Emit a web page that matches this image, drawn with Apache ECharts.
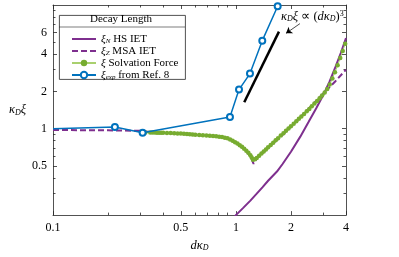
<!DOCTYPE html>
<html>
<head>
<meta charset="utf-8">
<script src="https://cdn.jsdelivr.net/npm/echarts@6.0.0/dist/echarts.min.js"></script>
<style>
  html, body { margin: 0; padding: 0; background: #fff; }
  #chart { width: 399px; height: 257px; }
</style>
</head>
<body>
<div id="chart"></div>
<script>
// values (d*kappa_D  vs  kappa_D*xi, log-log)
const hsX = [0.97, 1.0, 1.1, 1.2, 1.3, 1.4, 1.5, 1.677, 1.8, 2.0, 2.25, 2.5, 2.75, 3.0, 3.25, 3.5, 3.75, 4.0];
const hsY = [0.188, 0.2, 0.23, 0.262, 0.298, 0.337, 0.379, 0.45, 0.518, 0.65, 0.862, 1.136, 1.465, 1.86, 2.40, 3.14, 4.11, 5.4];

const msaX = [0.1, 0.2, 0.3, 0.33, 0.36, 0.4, 0.5, 0.6, 0.7, 0.8, 0.9, 1.0, 1.1, 1.2, 1.25, 1.3, 1.5, 1.75, 2.0, 2.5, 3.0, 3.5, 4.0];
const msaY = [0.975, 0.97, 0.96, 0.945, 0.93, 0.922, 0.908, 0.89, 0.875, 0.86, 0.83, 0.77, 0.69, 0.60, 0.52, 0.575, 0.70, 0.855, 1.04, 1.45, 1.92, 2.42, 3.0];

const solvX = [0.32, 0.34, 0.35, 0.36, 0.37, 0.38, 0.39, 0.40, 0.42, 0.44, 0.46, 0.48, 0.50, 0.52, 0.54, 0.56, 0.58, 0.60,
  0.63, 0.66, 0.69, 0.72, 0.75, 0.78, 0.81, 0.84, 0.87, 0.90, 0.93, 0.96, 0.99, 1.02, 1.05, 1.08, 1.11, 1.14, 1.17, 1.20,
  1.22, 1.24, 1.27, 1.30, 1.34, 1.38, 1.42, 1.46, 1.50, 1.55, 1.60, 1.65, 1.70, 1.76, 1.82, 1.88, 1.94, 2.00,
  2.07, 2.14, 2.21, 2.28, 2.36, 2.44, 2.52, 2.60, 2.69, 2.78, 2.87, 2.96, 3.06, 3.16, 3.26, 3.37, 3.48, 3.60, 3.72, 3.84, 3.96];
const solvY = [0.930, 0.930, 0.929, 0.929, 0.928, 0.927, 0.926, 0.925, 0.923, 0.921, 0.918, 0.915, 0.912, 0.909, 0.905, 0.901, 0.897, 0.893,
  0.888, 0.884, 0.880, 0.876, 0.872, 0.868, 0.862, 0.855, 0.846, 0.835, 0.818, 0.798, 0.778, 0.757, 0.736, 0.713, 0.688, 0.663, 0.638, 0.610,
  0.585, 0.560, 0.565, 0.58, 0.605, 0.63, 0.655, 0.68, 0.706, 0.739, 0.771, 0.805, 0.838, 0.879, 0.92, 0.962, 1.004, 1.047,
  1.098, 1.149, 1.20, 1.253, 1.314, 1.38, 1.445, 1.515, 1.595, 1.675, 1.76, 1.85, 1.96, 2.09, 2.28, 2.55, 2.86, 3.25, 3.72, 4.25, 4.85];

const expX = [0.1, 0.218, 0.309, 0.928, 1.04, 1.194, 1.394, 1.692];
const expY = [1.0, 1.03, 0.926, 1.245, 2.07, 2.79, 5.15, 9.77];

// cubic guide line and its arrow
const guideX = [1.111, 1.72];
const guideY = [1.636, 6.09];
const arrowX = [2.24, 1.879];
const arrowY = [7.07, 5.9];

const xTicks = [0.1, 0.5, 1, 2, 4];
const xTickLabels = ['0.1', '0.5', '1', '2', '4'];
const xMinor = [0.2, 0.3, 0.4, 0.6, 0.7, 0.8, 0.9, 3];
const yTicks = [0.5, 1, 2, 4, 6];
const yTickLabels = ['0.5', '1', '2', '4', '6'];
const yMinor = [0.3, 0.4, 0.6, 0.7, 0.8, 0.9, 3, 5, 7, 8, 9];

const names = ['ξN HS IET', 'ξZ MSA IET', 'ξ Solvation Force', 'ξexp from Ref. 8'];
const legendText = {
  'ξN HS IET': '{i|ξ}{s|N}{t| HS IET}',
  'ξZ MSA IET': '{i|ξ}{s|Z}{t| MSA IET}',
  'ξ Solvation Force': '{i|ξ}{t| Solvation Force}',
  'ξexp from Ref. 8': '{i|ξ}{s|exp}{t| from Ref. 8}'
};

const L = Math.log10;
const pts = (xs, ys) => xs.map((x, i) => [L(x), L(ys[i])]);
const serif = 'Liberation Serif';
const frame = '#262626';
const purple = '#7E2F8E';
const blue = '#0072BD';
const green = '#77AC30';

const rich = {
  i: { fontFamily: serif, fontStyle: 'italic', fontSize: 11, lineHeight: 12, color: '#000' },
  t: { fontFamily: serif, fontSize: 11, lineHeight: 12, color: '#000' },
  s: { fontFamily: serif, fontStyle: 'italic', fontSize: 7, lineHeight: 6, verticalAlign: 'bottom', color: '#000' },
  p: { fontFamily: serif, fontSize: 7, lineHeight: 6, verticalAlign: 'top', color: '#000' }
};
// slightly larger set for axis titles and the annotation
const richBig = {
  i: { fontFamily: serif, fontStyle: 'italic', fontSize: 12.5, lineHeight: 13, color: '#000' },
  t: { fontFamily: serif, fontSize: 12.5, lineHeight: 13, color: '#000' },
  s: { fontFamily: serif, fontStyle: 'italic', fontSize: 8, lineHeight: 7, verticalAlign: 'bottom', color: '#000' },
  p: { fontFamily: serif, fontSize: 8, lineHeight: 7, verticalAlign: 'top', color: '#000' }
};

function tickLabel(v, ticks, labels) {
  let best = 0;
  ticks.forEach((t, i) => { if (Math.abs(L(t) - v) < Math.abs(L(ticks[best]) - v)) best = i; });
  return labels[best];
}

function axis(pos, min, max, ticks, len, lineOn) {
  return {
    type: 'value', position: pos, min: min, max: max,
    splitLine: { show: false },
    axisLine: { show: lineOn, onZero: false, lineStyle: { color: frame, width: 0.8 } },
    axisTick: { show: true, inside: true, length: len, customValues: ticks.map(L), lineStyle: { color: frame, width: 0.8 } },
    axisLabel: { show: false }
  };
}

const xMin = L(0.1), xMax = L(4), yMin = L(0.2), yMax = L(10);

const xMain = axis('bottom', xMin, xMax, xTicks, 4, true);
xMain.axisLabel = {
  show: true, customValues: xTicks.map(L), margin: 7, color: '#000', fontFamily: serif, fontSize: 12,
  formatter: v => tickLabel(v, xTicks, xTickLabels)
};
xMain.name = '{i|dκ}{s|D}';
xMain.nameLocation = 'middle';
xMain.nameGap = 18;
xMain.nameTextStyle = { rich: richBig };

const yMain = axis('left', yMin, yMax, yTicks, 4, true);
yMain.axisLabel = {
  show: true, customValues: yTicks.map(L), margin: 6, color: '#000', fontFamily: serif, fontSize: 12,
  formatter: v => tickLabel(v, yTicks, yTickLabels)
};
yMain.name = '{i|κ}{s|D}{i|ξ}';
yMain.nameLocation = 'middle';
yMain.nameRotate = 0;
yMain.nameGap = 17;
yMain.nameTextStyle = { rich: richBig };

const chart = echarts.init(document.getElementById('chart'));
chart.setOption({
  animation: false,
  backgroundColor: '#fff',
  grid: { left: 53, right: 53, top: 5, bottom: 31, containLabel: false },
  xAxis: [
    xMain,
    axis('bottom', xMin, xMax, xMinor, 2.5, false),
    axis('top', xMin, xMax, xTicks, 4, true),
    axis('top', xMin, xMax, xMinor, 2.5, false)
  ],
  yAxis: [
    yMain,
    axis('left', yMin, yMax, yMinor, 2.5, false),
    axis('right', yMin, yMax, yTicks, 4, true),
    axis('right', yMin, yMax, yMinor, 2.5, false)
  ],
  legend: {
    data: [
      { name: names[0], itemStyle: { opacity: 0 } },
      { name: names[1], itemStyle: { opacity: 0 } },
      { name: names[2] },
      { name: names[3] }
    ],
    orient: 'vertical',
    left: 66, top: 28,
    itemWidth: 24, itemHeight: 8, itemGap: 0,
    textStyle: { fontFamily: serif, fontSize: 11, lineHeight: 12, rich: rich },
    formatter: n => legendText[n],
    z: 10
  },
  graphic: [
    { type: 'rect', left: 59, top: 15, z: 3, shape: { width: 126, height: 64 },
      style: { fill: '#fff', stroke: frame, lineWidth: 0.8 } },
    { type: 'line', z: 4, shape: { x1: 59, y1: 27, x2: 185, y2: 27 }, style: { stroke: frame, lineWidth: 0.6 } },
    { type: 'text', z: 4, left: 90, top: 14,
      style: { text: 'Decay Length', font: '11px "Liberation Serif"', fill: '#000' } },
    { type: 'text', left: 281, top: 10, z: 4,
      style: { text: '{i|κ}{s|D}{i|ξ}{t| ∝ (}{i|dκ}{s|D}{t|)}{p|3}', rich: richBig, fill: '#000' } }
  ],
  series: [
    {
      name: names[0], type: 'line', data: pts(hsX, hsY), symbol: 'none',
      lineStyle: { color: purple, width: 2 }, itemStyle: { color: purple }, z: 3
    },
    {
      name: names[1], type: 'line', data: pts(msaX, msaY), symbol: 'none',
      lineStyle: { color: purple, width: 2, type: [6, 3] }, itemStyle: { color: purple }, z: 3
    },
    {
      name: names[2], type: 'line', data: pts(solvX, solvY), symbol: 'circle', symbolSize: 4.5,
      lineStyle: { color: '#a9d06e', width: 1 }, itemStyle: { color: green }, z: 4
    },
    {
      name: names[3], type: 'line',
      data: pts(expX, expY).map((p, i) => i === 0 ? { value: p, symbol: 'none' } : p),
      symbol: 'emptyCircle', symbolSize: 6,
      lineStyle: { color: blue, width: 1.5 }, itemStyle: { color: blue, borderWidth: 1.3 }, z: 5
    },
    {
      name: 'guide', type: 'line', data: pts(guideX, guideY), symbol: 'none',
      lineStyle: { color: '#000', width: 2.5 }, z: 5,
      markLine: {
        silent: true, symbol: ['none', 'arrow'], symbolSize: 6,
        lineStyle: { color: '#000', width: 0.7, type: 'solid' },
        label: { show: false },
        data: [[{ coord: [L(arrowX[0]), L(arrowY[0])] }, { coord: [L(arrowX[1]), L(arrowY[1])] }]]
      }
    }
  ]
});
</script>
</body>
</html>
